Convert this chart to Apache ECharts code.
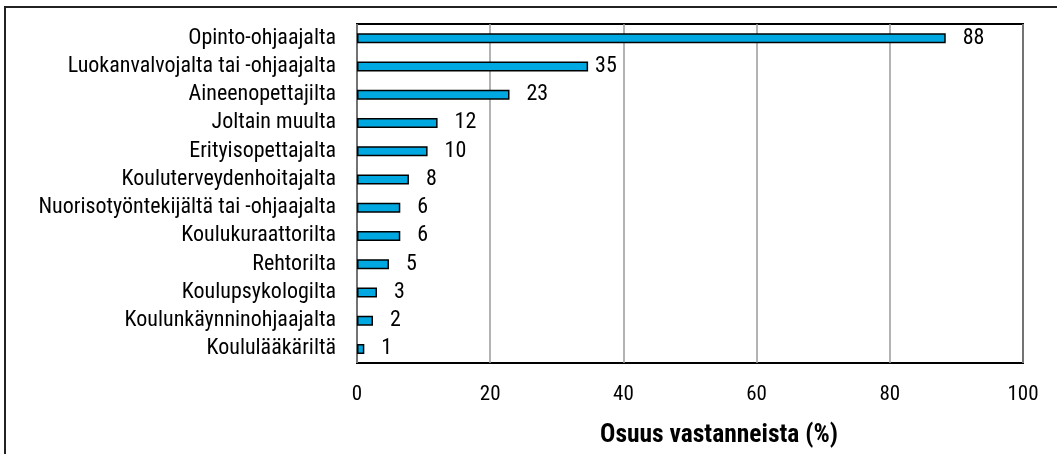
<!DOCTYPE html>
<html>
<head>
<meta charset="utf-8">
<script src="https://cdn.jsdelivr.net/npm/echarts@6/dist/echarts.min.js"></script>
<style>
  html, body { margin: 0; padding: 0; background: #fff; }
  #chart { width: 1057px; height: 454px; }
</style>
</head>
<body>
<div id="chart"></div>
<script>
  // tietolähteet ylhäältä alas
  const categories = ['Opinto-ohjaajalta', 'Luokanvalvojalta tai -ohjaajalta', 'Aineenopettajilta', 'Joltain muulta',
    'Erityisopettajalta', 'Kouluterveydenhoitajalta', 'Nuorisotyöntekijältä tai -ohjaajalta', 'Koulukuraattorilta',
    'Rehtorilta', 'Koulupsykologilta', 'Koulunkäynninohjaajalta', 'Koululääkäriltä']
  const values = [88.4, 34.7, 22.9, 12.1, 10.6, 7.8, 6.5, 6.5, 4.8, 3.0, 2.4, 1.1]
  const valueLabels = ['88', '35', '23', '12', '10', '8', '6', '6', '5', '3', '2', '1']
  const xTicks = [0, 20, 40, 60, 80, 100]

  // kapea fontti: Roboto condensed-leveydellä
  const font = { fontFamily: 'Roboto', fontStyle: 'condensed' }

  let chartDom = document.getElementById('chart')
  let myChart = echarts.init(chartDom)
  let option = {
    animation: false,
    graphic: [{
      type: 'rect',
      shape: { x: 5, y: 7, width: 1200, height: 600 },
      style: { fill: 'none', stroke: '#222', lineWidth: 2 },
      z: -1
    }],
    grid: {
      left: 357, top: 24, right: 34, bottom: 91,
      outerBoundsMode: 'none',
      show: true, borderColor: '#000', borderWidth: 2
    },
    xAxis: {
      type: 'value',
      min: xTicks[0], max: xTicks[xTicks.length - 1], interval: 20,
      name: 'Osuus vastanneista (%)',
      nameLocation: 'middle',
      nameGap: 60,
      nameTextStyle: { color: '#000', ...font, fontSize: 25.5, fontWeight: 'bold', padding: [0, 0, 0, 58] },
      axisLine: { show: false },
      axisTick: { show: false },
      axisLabel: { color: '#000', ...font, fontSize: 21, margin: 21 },
      splitLine: { lineStyle: { color: '#9a9a9a', width: 1.5 } }
    },
    yAxis: {
      type: 'category',
      inverse: true,
      data: categories,
      axisLine: { show: false },
      axisTick: { show: false },
      axisLabel: { color: '#000', ...font, fontSize: 22, margin: 21, interval: 0 }
    },
    series: [{
      type: 'bar',
      barWidth: 10,
      data: values.map((v, i) => ({
        value: v,
        label: i === 1 ? { distance: 7 } : undefined
      })),
      itemStyle: { color: '#00A8E1', borderColor: '#000', borderWidth: 1.5 },
      label: {
        show: true,
        position: 'right',
        distance: 17,
        color: '#000',
        ...font,
        fontSize: 22,
        formatter: (p) => valueLabels[p.dataIndex]
      }
    }]
  }
  option && myChart.setOption(option)
</script>
</body>
</html>
